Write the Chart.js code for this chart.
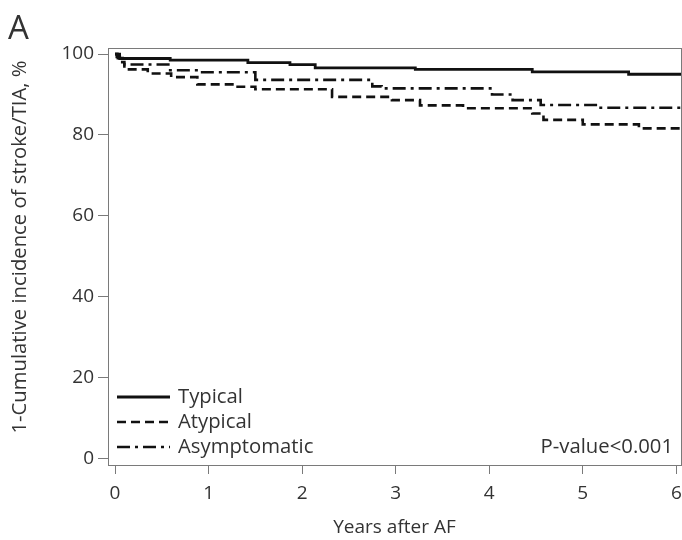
<!DOCTYPE html>
<html>
<head>
<meta charset="utf-8">
<script src="https://cdn.jsdelivr.net/npm/chart.js@4/dist/chart.umd.min.js"></script>
<style>
  html, body { margin: 0; padding: 0; background: #fff; }
  #box { width: 682px; height: 540px; position: relative; }
</style>
</head>
<body>
<div id="box"><canvas id="chartKM"></canvas></div>
<script>
// follow-up times (years) and survival free of stroke/TIA (%) at each step
const typicalTimes  = [0, 0.02, 0.05, 0.59, 1.42, 1.87, 2.14, 3.21, 4.46, 5.49, 6.05]
const typicalValues = [100, 99.3, 98.9, 98.5, 97.9, 97.4, 96.6, 96.2, 95.6, 95.0, 95.0]

const atypicalTimes  = [0, 0.05, 0.1, 0.35, 0.6, 0.88, 1.28, 1.5, 2.32, 2.96, 3.26, 3.72, 4.46, 4.58, 5.0, 5.6, 6.05]
const atypicalValues = [100, 98.0, 96.2, 95.2, 94.3, 92.5, 91.9, 91.3, 89.4, 88.6, 87.3, 86.6, 85.3, 83.7, 82.6, 81.6, 81.6]

const asymptTimes  = [0, 0.03, 0.1, 0.57, 0.9, 1.5, 2.75, 2.85, 4.03, 4.25, 4.55, 5.17, 6.05]
const asymptValues = [100, 99.0, 97.4, 96.0, 95.5, 93.6, 92.0, 91.5, 90.0, 88.6, 87.4, 86.7, 86.7]

const groupLabels = ['Typical', 'Atypical', 'Asymptomatic']
const xTicks = [0, 1, 2, 3, 4, 5, 6]
const yTicks = [0, 20, 40, 60, 80, 100]
const pValue = 'P-value<0.001'
const yTitle = '1-Cumulative incidence of stroke/TIA, %'

const chartKM = document.getElementById('chartKM')
const textColor = '#333'
const axisColor = '#7a7a7a'
const fontName = '"Open Sans", "Noto Sans", sans-serif'

function pontos(tempos, valores){
    return tempos.map((t, i) => ({ x: t, y: valores[i] }))
}

// box around the plot, legend inside, p-value, y title and panel letter
const extras = {
    id: 'extras',
    afterDraw(chart){
        const ctx = chart.ctx
        const a = chart.chartArea
        ctx.save()
        ctx.strokeStyle = axisColor
        ctx.lineWidth = 1
        ctx.strokeRect(a.left + 0.5, a.top + 0.5, a.right - a.left, a.bottom - a.top)

        ctx.fillStyle = textColor
        ctx.textBaseline = 'middle'
        ctx.textAlign = 'left'
        ctx.font = '33px ' + fontName
        ctx.fillText('A', 8, 30)

        ctx.font = '20.3px ' + fontName
        chart.data.datasets.forEach((ds, i) => {
            const y = 397 + i * 25
            ctx.strokeStyle = ds.borderColor
            ctx.lineWidth = ds.borderWidth
            ctx.setLineDash(ds.borderDash || [])
            ctx.beginPath()
            ctx.moveTo(a.left + 9, y)
            ctx.lineTo(a.left + 62, y)
            ctx.stroke()
            ctx.setLineDash([])
            ctx.fillText(ds.label, a.left + 70, y)
        })

        ctx.textAlign = 'right'
        ctx.fillText(pValue, 673, 447)

        ctx.font = '20.3px ' + fontName
        ctx.textAlign = 'center'
        ctx.translate(20, 247)
        ctx.rotate(-Math.PI / 2)
        ctx.fillText(yTitle, 0, 0)
        ctx.restore()
    }
}

new Chart(chartKM, {
    type: 'line',
    data: {
        datasets: [{
            label: groupLabels[0],
            data: pontos(typicalTimes, typicalValues),
            borderColor: '#111',
            borderWidth: 2.8,
            stepped: true,
            pointRadius: 0,
            fill: false
        }, {
            label: groupLabels[1],
            data: pontos(atypicalTimes, atypicalValues),
            borderColor: '#111',
            borderWidth: 2.6,
            borderDash: [9, 5],
            stepped: true,
            pointRadius: 0,
            fill: false
        }, {
            label: groupLabels[2],
            data: pontos(asymptTimes, asymptValues),
            borderColor: '#111',
            borderWidth: 2.6,
            borderDash: [13, 5, 3, 5],
            stepped: true,
            pointRadius: 0,
            fill: false
        }]
    },
    options: {
        responsive: true,
        maintainAspectRatio: false,
        animation: false,
        layout: { padding: { top: 48, right: 1, left: 0, bottom: 0 } },
        plugins: {
            legend: { display: false },
            tooltip: { enabled: false }
        },
        scales: {
            x: {
                type: 'linear',
                min: -0.075,
                max: 6.05,
                afterBuildTicks: s => { s.ticks = xTicks.map(v => ({ value: v })) },
                afterFit: s => { s.height = 75; s.paddingLeft = 0; s.paddingRight = 0 },
                grid: { drawOnChartArea: false, tickLength: 9, color: axisColor },
                border: { color: axisColor },
                ticks: { color: textColor, font: { family: fontName, size: 19 }, padding: 8, maxRotation: 0 },
                title: { display: true, text: 'Years after AF', color: textColor, font: { family: fontName, size: 19 }, padding: { top: 0, bottom: 1 } }
            },
            y: {
                min: -1.7,
                max: 101.5,
                afterBuildTicks: s => { s.ticks = yTicks.map(v => ({ value: v })) },
                afterFit: s => { s.width = 108; s.paddingTop = 0; s.paddingBottom = 0 },
                grid: { drawOnChartArea: false, tickLength: 10, color: axisColor },
                border: { color: axisColor },
                ticks: { color: textColor, font: { family: fontName, size: 19 }, padding: 4 }
            }
        }
    },
    plugins: [extras]
})
</script>
</body>
</html>
